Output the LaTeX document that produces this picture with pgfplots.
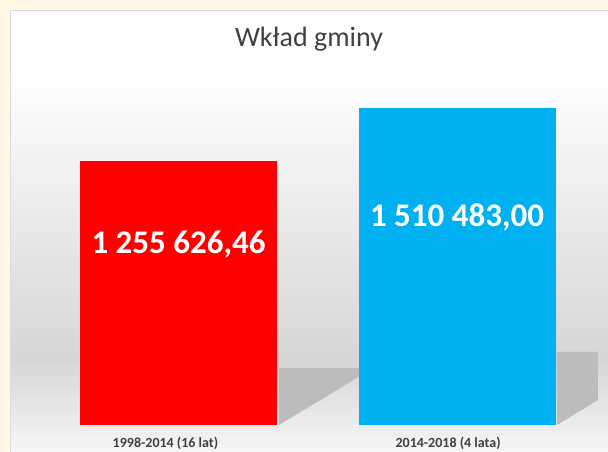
\documentclass[border=0pt]{standalone}
\usepackage{fontspec}
\setmainfont{Carlito}
\usepackage{pgfplots}
\pgfplotsset{compat=1.18}
\definecolor{cream}{RGB}{255,248,229}
\definecolor{barred}{RGB}{255,0,0}
\definecolor{barblue}{RGB}{0,176,240}
\definecolor{gB}{RGB}{214,214,214}
\definecolor{gC}{RGB}{246,246,246}
\definecolor{shad}{RGB}{188,188,188}
\definecolor{titlec}{RGB}{64,64,64}
\definecolor{panelborder}{RGB}{220,220,220}
\begin{document}
\begin{tikzpicture}[x=1pt,y=1pt]
\useasboundingbox (0,0) rectangle (608,452);
\clip (0,0) rectangle (608,452);
\fill[cream] (0,0) rectangle (608,452);
% inner panel
\fill[white] (10,380) rectangle (608,442);
\shade[top color=white, bottom color=gB] (10,92) rectangle (608,380.5);
\shade[top color=gB, bottom color=gC] (10,0) rectangle (608,92.5);
\draw[draw=panelborder, line width=1pt] (10.5,0) -- (10.5,441.5) -- (608,441.5);
\node[anchor=base, font=\fontsize{28}{32}\selectfont, text=titlec, inner sep=0pt] at (309,405) {Wkład gminy};
\begin{axis}[
  at={(39.25pt,27pt)}, anchor=south west,
  scale only axis, width=557pt, height=345pt,
  xmin=-0.5, xmax=1.5, ymin=0, ymax=1643900,
  axis line style={draw=none}, xtick=\empty, ytick=\empty,
  clip=false,
  ybar, bar width=197pt, bar shift=0pt,
]
\fill[shad] (axis cs:0.361,271600) -- (axis cs:0.652,271600) -- (axis cs:0.652,233480) -- (axis cs:0.361,0) -- cycle;
\fill[shad] (axis cs:1.359,347830) -- (axis cs:1.506,347830) -- (axis cs:1.506,119120) -- (axis cs:1.359,0) -- cycle;
\addplot[fill=barred, draw=none] coordinates {(0,1255626.46)};
\addplot[fill=barblue, draw=none] coordinates {(1,1510483.00)};
\node[anchor=base, text=white, font=\bfseries\fontsize{33}{37}\selectfont, inner sep=0pt] at (axis cs:0,817170) {1 255 626,46};
\node[anchor=base, text=white, font=\bfseries\fontsize{33}{37}\selectfont, inner sep=0pt] at (axis cs:1,945820) {1 510 483,00};
\node[anchor=base, text=titlec, font=\bfseries\fontsize{14}{16}\selectfont, inner sep=0pt] at (axis cs:-0.047,-109600) {1998-2014 (16 lat)};
\node[anchor=base, text=titlec, font=\bfseries\fontsize{14}{16}\selectfont, inner sep=0pt] at (axis cs:0.968,-109600) {2014-2018 (4 lata)};
\end{axis}
\end{tikzpicture}
\end{document}
